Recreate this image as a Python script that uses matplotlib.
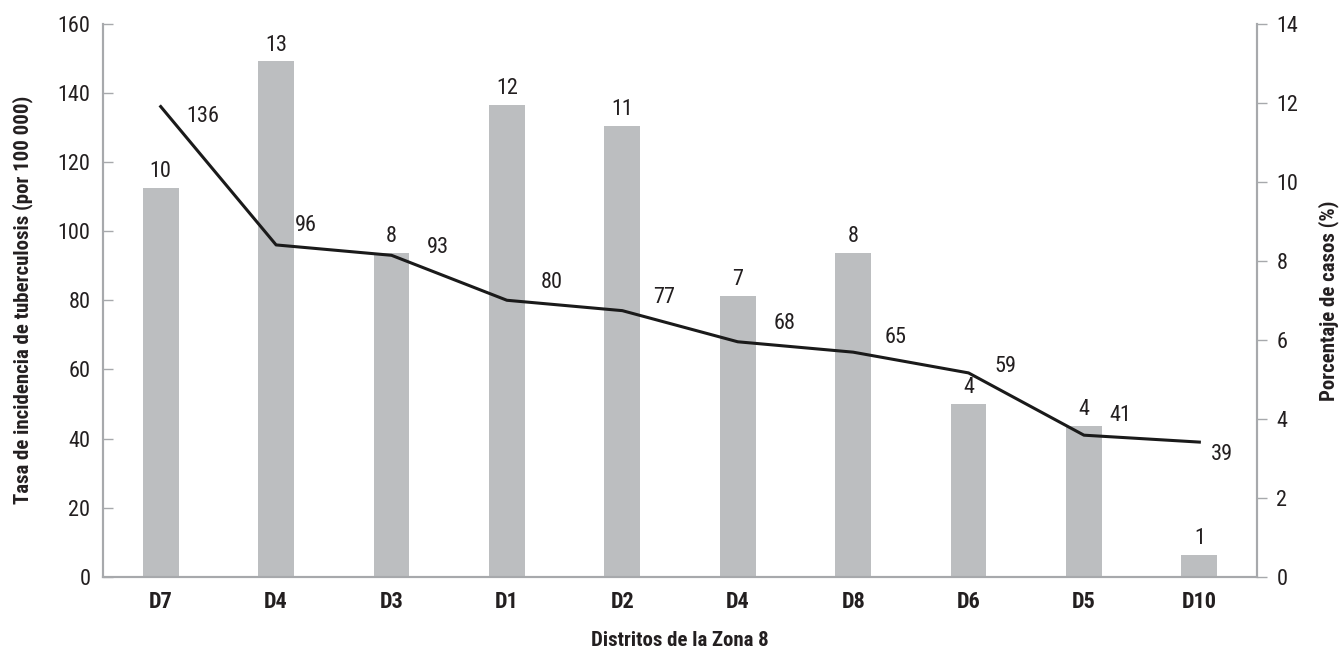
import matplotlib
matplotlib.use("Agg")
import matplotlib.pyplot as plt

districts = ["D7", "D4", "D3", "D1", "D2", "D4", "D8", "D6", "D5", "D10"]
pct_cases = [9.85, 13.05, 8.2, 11.94, 11.41, 7.11, 8.2, 4.38, 3.82, 0.56]
pct_labels = ["10", "13", "8", "12", "11", "7", "8", "4", "4", "1"]
incidence = [136, 96, 93, 80, 77, 68, 65, 59, 41, 39]

# label offsets for the line values (pixels, style only)
line_label_offsets = [(42, -10), (30, 19), (46, 8), (45, 18), (42, 13),
                      (47, 18), (42, 15), (37, 6), (36, 20), (23, -12)]

plt.rcParams['font.family'] = ['Roboto Condensed', 'Liberation Sans', 'DejaVu Sans']

TXT = "#231f20"
GRAY = "#a7a9ac"
BAR = "#bcbec0"

fig = plt.figure(figsize=(13.41, 6.5), dpi=100)
ax = fig.add_axes([0.0768, 0.1123, 0.9374 - 0.0768, 0.9638 - 0.1123])
ax2 = ax.twinx()

x = list(range(len(districts)))
ax2.bar(x, pct_cases, width=0.31, color=BAR, zorder=1)
for xi, v, lab in zip(x, pct_cases, pct_labels):
    ax2.annotate(lab, (xi, v), xytext=(0, 4), textcoords="offset points",
                 ha="center", va="bottom", fontsize=16, color=TXT)

ax.plot(x, incidence, color="#1a1a1a", lw=2.2, zorder=3)
for xi, v, (dx, dy) in zip(x, incidence, line_label_offsets):
    ax.annotate(str(v), (xi, v), xytext=(dx * 0.72, dy * 0.72), textcoords="offset points",
                ha="center", va="center", fontsize=16, color=TXT)

ax.set_zorder(ax2.get_zorder() + 1)
ax.patch.set_visible(False)

ax.set_xlim(-0.5, 9.5)
ax.set_ylim(0, 160)
ax2.set_ylim(0, 14)
ax.set_yticks(range(0, 161, 20))
ax2.set_yticks(range(0, 15, 2))
ax.set_xticks(x)
ax.set_xticklabels(districts, fontsize=16, fontweight="bold", color=TXT)

for a in (ax, ax2):
    a.spines["top"].set_visible(False)
    for s in ("left", "right", "bottom"):
        a.spines[s].set_color(GRAY)
        a.spines[s].set_linewidth(1.5)

ax.tick_params(axis="y", direction="in", length=7, width=1, color=GRAY,
               labelsize=16, labelcolor=TXT, pad=9)
ax.tick_params(axis="x", length=0, pad=10)
ax2.tick_params(axis="y", direction="out", length=7, width=1, color=GRAY,
                labelsize=16, labelcolor=TXT, pad=7)

ax.set_ylabel("Tasa de incidencia de tuberculosis (por 100 000)", fontsize=15,
              fontweight="bold", color=TXT, labelpad=18)
ax2.set_ylabel("Porcentaje de casos (%)", fontsize=15, fontweight="bold",
               color=TXT, labelpad=14)
ax.set_xlabel("Distritos de la Zona 8", fontsize=15, fontweight="bold",
              color=TXT, labelpad=13)

fig.savefig("out.png", dpi=100)
